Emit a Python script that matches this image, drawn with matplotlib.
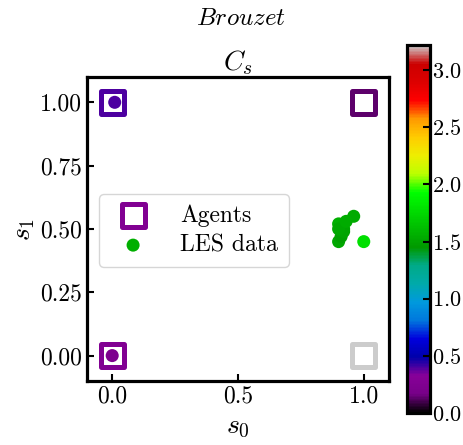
import matplotlib
matplotlib.use("Agg")
import matplotlib.pyplot as plt
import numpy as np

plt.rcParams["font.family"] = "serif"
plt.rcParams["font.serif"] = ["cmr10"]
plt.rcParams["mathtext.fontset"] = "cm"
plt.rcParams["axes.formatter.use_mathtext"] = True
plt.rcParams["font.size"] = 17

# agents (corners of the action space) and their C_s value
agent_s0 = [0.0, 0.0, 1.0, 1.0]
agent_s1 = [0.0, 1.0, 1.0, 0.0]
agent_cs = [0.26, 0.40, 0.13, 3.22]

# LES data points
les_s0 = [0.90, 0.92, 0.96, 0.90, 0.91, 0.92, 0.90, 0.93, 1.00, 0.01, 0.0]
les_s1 = [0.52, 0.50, 0.55, 0.45, 0.47, 0.49, 0.50, 0.53, 0.45, 1.00, 0.0]
les_cs = [1.55, 1.50, 1.53, 1.52, 1.48, 1.50, 1.51, 1.54, 1.78, 0.40, 0.22]

vmin, vmax = 0.0, 3.22
cmap = plt.get_cmap("nipy_spectral")
norm = plt.Normalize(vmin, vmax)

fig = plt.figure(figsize=(4.63, 4.45), dpi=100)
ax = fig.add_axes([0.188, 0.144, 0.652, 0.683])
cax = fig.add_axes([0.879, 0.072, 0.05, 0.827])

ax.scatter(agent_s0, agent_s1, marker="s", s=272, facecolors="none",
           edgecolors=cmap(norm(agent_cs)), linewidths=3.6, label="Agents")
sc = ax.scatter(les_s0, les_s1, c=les_cs, cmap=cmap, vmin=vmin, vmax=vmax,
                marker="o", s=88, edgecolors="none", label="LES data")

ax.set_xlim(-0.1, 1.1)
ax.set_ylim(-0.1, 1.1)
ax.set_xticks([0.0, 0.5, 1.0])
ax.set_yticks([0.0, 0.25, 0.5, 0.75, 1.0])
ax.set_xticklabels(["0.0", "0.5", "1.0"])
ax.set_yticklabels(["0.00", "0.25", "0.50", "0.75", "1.00"])
ax.tick_params(direction="in", length=5, width=1.5)
for sp in ax.spines.values():
    sp.set_linewidth(2.3)

ax.set_xlabel("$s_0$", fontsize=20, labelpad=4)
ax.set_ylabel("$s_1$", fontsize=20, labelpad=2)
ax.set_title("$C_s$", fontsize=20, pad=4)
fig.text(0.52, 0.957, "$Brouzet$", ha="center", va="center", fontsize=18)

leg = ax.legend(loc="center left", bbox_to_anchor=(0.0, 0.495), fontsize=17,
                handletextpad=1.0, borderpad=0.45, labelspacing=0.3)
leg.legend_handles[0].set_edgecolor(cmap(norm(0.26)))
leg.legend_handles[0].set_sizes([272])
leg.legend_handles[0].set_linewidth(3.6)
leg.legend_handles[1].set_sizes([88])

cb = fig.colorbar(sc, cax=cax)
cb.set_ticks([0.0, 0.5, 1.0, 1.5, 2.0, 2.5, 3.0])
cb.ax.tick_params(direction="in", length=5, width=1.5, pad=1.5, labelsize=16)
cb.outline.set_linewidth(2.3)

fig.savefig("out.png", dpi=100)
